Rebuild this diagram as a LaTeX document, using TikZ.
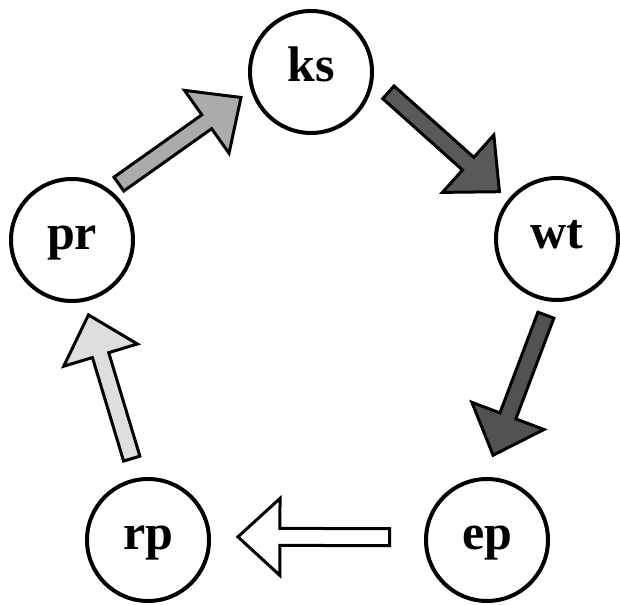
\documentclass[tikz,border=0pt]{standalone}
\usepackage{fontspec}
\setmainfont{Liberation Serif}
\usepackage{tikz}
\usetikzlibrary{calc}

\tikzset{
  stage/.style={draw, circle, line width=4pt, minimum size=122pt, inner sep=0pt,
    font=\fontsize{50}{50}\selectfont\bfseries, text height=34pt, text depth=14pt},
  blockline/.style={line width=3pt, line join=miter}
}

% block arrow: fill, tail point, tip point
\newcommand{\blockarrow}[3]{%
  \path (#2) coordinate (tail) (#3) coordinate (tip) ($(tip)!42pt!(tail)$) coordinate (base);
  \draw [blockline, fill=#1] ($(tail)!8.5pt!90:(tip)$) -- ($(base)!8.5pt!90:(tip)$)
    -- ($(base)!38.5pt!90:(tip)$) -- (tip) -- ($(base)!38.5pt!-90:(tip)$)
    -- ($(base)!8.5pt!-90:(tip)$) -- ($(tail)!8.5pt!-90:(tip)$) -- cycle;
}

\begin{document}
\begin{tikzpicture}[x=1pt, y=1pt]
        \useasboundingbox (0,0) rectangle (620,604);

        \node [stage] (ks) at (311,532) {ks};
        \node [stage] (wt) at (557,365) {wt};
        \node [stage] (ep) at (487,64)  {ep};
        \node [stage] (rp) at (148,64)  {rp};
        \node [stage] (pr) at (72,364)  {pr};

        \blockarrow{black!33}{$(pr)+(50:73)$}{$(ks)+(200:74.5)$}
        \blockarrow{black!65}{$(ks)+(-14.7:80)$}{$(wt)+(140.6:74.5)$}
        \blockarrow{black!68}{$(wt)+(261.7:77)$}{$(ep)+(85.9:85)$}
        \blockarrow{white}{$(ep)+(178.3:97.5)$}{$(rp)+(2:90)$}
        \blockarrow{black!13}{$(rp)+(101.3:83)$}{$(pr)+(-77.6:76.7)$}
      \end{tikzpicture}
\end{document}
